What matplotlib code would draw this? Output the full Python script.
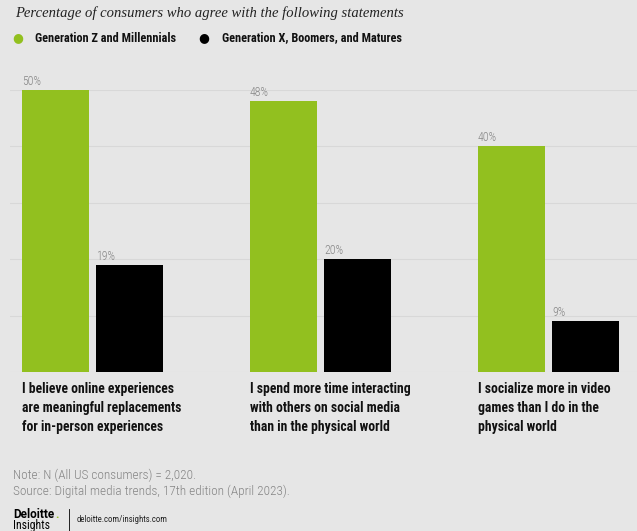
import matplotlib
matplotlib.use('Agg')
import matplotlib.pyplot as plt
from matplotlib.transforms import blended_transform_factory

categories = [
    'I believe online experiences\nare meaningful replacements\nfor in-person experiences',
    'I spend more time interacting\nwith others on social media\nthan in the physical world',
    'I socialize more in video\ngames than I do in the\nphysical world',
]
gen_z = [50, 48, 40]
gen_x = [19, 20, 9]
series_names = ['Generation Z and Millennials', 'Generation X, Boomers, and Matures']

GREEN = '#92c01f'
BLACK = '#000000'
BG = '#e6e6e6'
GRAY = '#858585'
COND = 'Roboto Condensed'

W, H = 637, 531
fig = plt.figure(figsize=(W / 100, H / 100), dpi=100, facecolor=BG)

def fx(px):
    return px / W

def fy(py):
    return 1 - py / H

# plot area: baseline at y=372px, 50% line at y=90px
ax = fig.add_axes([fx(10), fy(372), fx(627), (372 - 90) / H])
ax.set_facecolor(BG)
unit = 228.0
left0 = -(92.5 - 10) / unit
ax.set_xlim(left0, left0 + 627 / unit)
ax.set_ylim(0, 50)

bw = 67 / unit
off = 37 / unit
xs = list(range(len(categories)))
ax.bar([x - off for x in xs], gen_z, width=bw, color=GREEN, zorder=3)
ax.bar([x + off for x in xs], gen_x, width=bw, color=BLACK, zorder=3)

for x, v in zip(xs, gen_z):
    ax.text(x - off - bw / 2, v + 0.4, f'{v}%', ha='left', va='bottom',
            fontsize=8.5, color=GRAY, family=COND, fontweight='light', clip_on=False)
for x, v in zip(xs, gen_x):
    ax.text(x + off - bw / 2, v + 0.4, f'{v}%', ha='left', va='bottom',
            fontsize=8.5, color=GRAY, family=COND, fontweight='light', clip_on=False)

ax.set_yticks(range(0, 51, 10))
ax.grid(axis='y', color='#d8d8d8', linewidth=0.8, zorder=0)
ax.tick_params(length=0, labelleft=False, labelbottom=False)
for s in ax.spines.values():
    s.set_visible(False)

# category labels under each group, one line every 19px
lbl_tr = blended_transform_factory(ax.transData, fig.transFigure)
for x, label in zip(xs, categories):
    for i, line in enumerate(label.split('\n')):
        ax.text(x - off - bw / 2, fy(389 + 19 * i), line, transform=lbl_tr,
                ha='left', va='center', fontsize=9.8, fontweight='bold',
                family=COND, color='#111111', clip_on=False)

fig.text(fx(15), fy(13), 'Percentage of consumers who agree with the following statements',
         ha='left', va='center', fontsize=10.5, style='italic',
         family='Liberation Serif', color='#222222')

# legend
fig.text(fx(18), fy(38), '\u25CF', ha='center', va='center', fontsize=9, color=GREEN)
fig.text(fx(35), fy(38), series_names[0], ha='left', va='center', fontsize=8.8,
         fontweight='bold', family=COND, color='#111111')
fig.text(fx(204), fy(38), '\u25CF', ha='center', va='center', fontsize=9, color=BLACK)
fig.text(fx(222), fy(38), series_names[1], ha='left', va='center', fontsize=8.8,
         fontweight='bold', family=COND, color='#111111')

fig.text(fx(13), fy(475), 'Note: N (All US consumers) = 2,020.', ha='left', va='center',
         fontsize=9.5, color=GRAY, family=COND, fontweight='light')
fig.text(fx(13), fy(491), 'Source: Digital media trends, 17th edition (April 2023).',
         ha='left', va='center', fontsize=9.5, color=GRAY, family=COND, fontweight='light')

fig.text(fx(13), fy(514), 'Deloitte', ha='left', va='center', fontsize=8.5,
         fontweight='bold', family='Roboto', color='#000000')
fig.text(fx(55), fy(515), '.', ha='left', va='center', fontsize=8.5,
         fontweight='bold', family='Roboto', color=GREEN)
fig.text(fx(13), fy(526), 'Insights', ha='left', va='center', fontsize=8.5,
         family=COND, color='#000000')
fig.add_artist(plt.Line2D([fx(69), fx(69)], [fy(509), fy(531)], color='#000000',
                          linewidth=0.6, transform=fig.transFigure))
fig.text(fx(77), fy(520), 'deloitte.com/insights.com', ha='left', va='center',
         fontsize=6.3, family=COND, color='#222222')

fig.savefig('out.png', dpi=100, facecolor=BG)
